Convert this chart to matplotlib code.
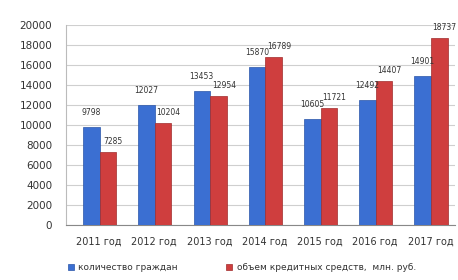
import matplotlib
matplotlib.use("Agg")
import matplotlib.pyplot as plt
import numpy as np

categories = ["2011 год", "2012 год", "2013 год", "2014 год", "2015 год", "2016 год", "2017 год"]
citizens = [9798, 12027, 13453, 15870, 10605, 12492, 14901]
credit = [7285, 10204, 12954, 16789, 11721, 14407, 18737]
series_names = ["количество граждан", "объем кредитных средств,  млн. руб."]
yticks = [0, 2000, 4000, 6000, 8000, 10000, 12000, 14000, 16000, 18000, 20000]

blue = "#3B6FD2"
red = "#CF3E3E"

fig = plt.figure(figsize=(4.58, 2.8), dpi=100)
ax = fig.add_axes([0.144, 0.195, 0.85, 0.715])

x = np.arange(len(categories))
w = 0.30
b1 = ax.bar(x - w / 2 + 0.01, citizens, w, color=blue, edgecolor="#2A55A8", linewidth=0.5, label=series_names[0], zorder=3)
b2 = ax.bar(x + w / 2 + 0.01, credit, w, color=red, edgecolor="#A02C2C", linewidth=0.5, label=series_names[1], zorder=3)

for rect, v in zip(b1, citizens):
    ax.text(rect.get_x() + rect.get_width() / 2, v + 1000, str(v), ha="center", va="bottom", fontsize=5.5, color="#333333", zorder=4)
for rect, v in zip(b2, credit):
    ax.text(rect.get_x() + rect.get_width() / 2 + 0.1, v + 600, str(v), ha="center", va="bottom", fontsize=5.5, color="#333333", zorder=4)

ax.set_ylim(0, 20000)
ax.set_xlim(-0.6, 6.45)
ax.set_yticks(yticks)
ax.set_yticklabels([str(t) for t in yticks], fontsize=7.5, color="#333333")
ax.set_xticks(x)
ax.set_xticklabels(categories, fontsize=7, color="#333333")
ax.tick_params(axis="y", length=0, pad=10)
ax.tick_params(axis="x", length=0, pad=8)
ax.yaxis.grid(True, color="#CFCFCF", linewidth=0.8, zorder=0)
for s in ["top", "right"]:
    ax.spines[s].set_visible(False)
ax.spines["left"].set_color("#BBBBBB")
ax.spines["bottom"].set_color("#888888")

leg = fig.legend(handles=[b1, b2], labels=series_names, loc="lower left", bbox_to_anchor=(0.13, 0.0),
                 ncol=2, fontsize=6.5, frameon=False, handlelength=0.7, handleheight=0.7,
                 columnspacing=5.3, handletextpad=0.5)
for t in leg.get_texts():
    t.set_color("#333333")

fig.savefig("out.png", dpi=100)
